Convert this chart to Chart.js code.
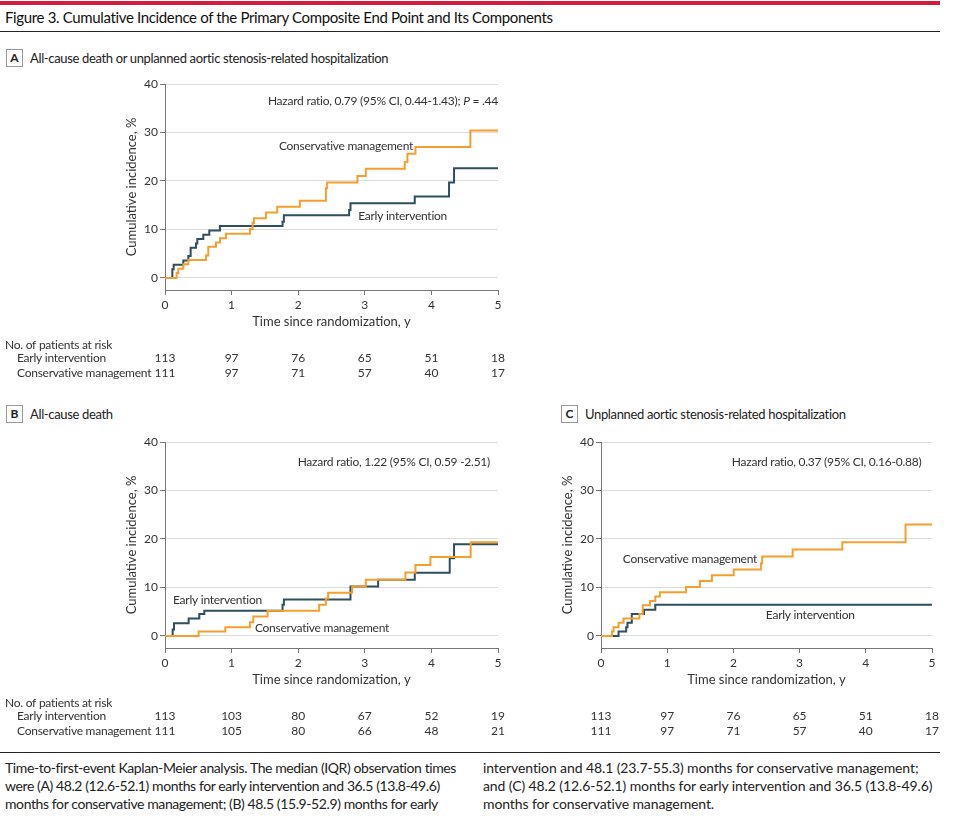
<!DOCTYPE html>
<html>
<head>
<meta charset="utf-8">
<script src="https://cdn.jsdelivr.net/npm/chart.js@4.4.0/dist/chart.umd.min.js"></script>
<style>
  body { margin: 0; width: 954px; height: 823px; background: #fff; position: relative; overflow: hidden;
         font-family: 'Lato', sans-serif; color: #222; }
  .abs { position: absolute; }
  #redbar { left: 0; top: 1px; width: 940px; height: 4px; background: #d21e3c; }
  #title { left: 5px; top: 7px; font-size: 15px; line-height: 20px; color: #111; white-space: nowrap; letter-spacing: -0.35px; }
  .rule { left: 0; width: 940px; height: 1px; background: #222; }
  .tag { width: 15px; height: 16px; border: 1px solid #999; font-size: 12px; font-weight: bold; text-align: center; line-height: 16px; color: #222; }
  .ptitle { font-size: 13px; line-height: 16px; color: #222; white-space: nowrap; letter-spacing: -0.35px; }
  .chartbox { position: absolute; }
  .caption { font-size: 14px; line-height: 18px; color: #222; white-space: nowrap; top: 759px; }
</style>
</head>
<body>
<div id="redbar" class="abs"></div>
<div id="title" class="abs">Figure 3. Cumulative Incidence of the Primary Composite End Point and Its Components</div>
<div class="abs rule" style="top:31px"></div>

<div class="abs tag" style="left:6px;top:49px">A</div>
<div class="abs ptitle" style="left:30px;top:50px">All-cause death or unplanned aortic stenosis-related hospitalization</div>
<div class="abs tag" style="left:6px;top:405px">B</div>
<div class="abs ptitle" style="left:30px;top:406px">All-cause death</div>
<div class="abs tag" style="left:561px;top:405px">C</div>
<div class="abs ptitle" style="left:585px;top:406px">Unplanned aortic stenosis-related hospitalization</div>

<div class="chartbox" style="left:0;top:74px;width:520px;height:310px"><canvas id="chartA"></canvas></div>
<div class="chartbox" style="left:0;top:432px;width:520px;height:310px"><canvas id="chartB"></canvas></div>
<div class="chartbox" style="left:490px;top:432px;width:460px;height:310px"><canvas id="chartC"></canvas></div>

<div class="abs rule" style="top:752px"></div>
<div class="abs caption" style="left:5px;letter-spacing:-0.4px">Time-to-first-event Kaplan-Meier analysis. The median (IQR) observation times<br>were (A) 48.2 (12.6-52.1) months for early intervention and 36.5 (13.8-49.6)<br>months for conservative management; (B) 48.5 (15.9-52.9) months for early</div>
<div class="abs caption" style="left:483px;letter-spacing:-0.1px">intervention and 48.1 (23.7-55.3) months for conservative management;<br>and (C) 48.2 (12.6-52.1) months for early intervention and 36.5 (13.8-49.6)<br>months for conservative management.</div>

<script>
const FAMILY = "'Lato', sans-serif";
const TEAL = '#2d4f5e';
const ORANGE = '#f5a02e';

const years = [0, 1, 2, 3, 4, 5];

// A: all-cause death or unplanned AS-related hospitalization
const aEarlyT = [0, 0.11, 0.13, 0.275, 0.35, 0.385, 0.465, 0.485, 0.575, 0.665, 0.825, 1.765, 1.785, 2.765, 2.785, 3.75, 4.265, 4.34, 5];
const aEarlyY = [0, 1.8, 2.7, 3.6, 4.5, 6.2, 7.1, 8.0, 8.9, 9.8, 10.7, 11.6, 12.9, 14.0, 15.4, 16.8, 19.7, 22.6, 22.6];
const aConsT = [0, 0.175, 0.2, 0.275, 0.35, 0.615, 0.65, 0.765, 0.825, 0.915, 1.275, 1.315, 1.335, 1.515, 1.685, 2.025, 2.415, 2.435, 2.89, 3.015, 3.6, 3.64, 3.76, 4.585, 5];
const aConsY = [0, 1.0, 1.9, 2.8, 3.7, 4.6, 6.4, 7.3, 8.2, 9.1, 10.1, 11.3, 12.3, 13.5, 14.7, 15.9, 18.5, 19.7, 21.0, 22.5, 23.9, 25.6, 27.0, 30.4, 30.4];
const aRiskEarly = [113, 97, 76, 65, 51, 18];
const aRiskCons = [111, 97, 71, 57, 40, 17];

// B: all-cause death
const bEarlyT = [0, 0.115, 0.135, 0.355, 0.515, 0.59, 1.765, 1.785, 2.785, 3.2, 3.75, 4.275, 4.34, 5];
const bEarlyY = [0, 1.3, 2.6, 3.6, 4.5, 5.2, 6.4, 7.5, 10.2, 11.6, 13.0, 16.0, 18.9, 18.9];
const bConsT = [0, 0.505, 0.905, 1.275, 1.325, 1.54, 2.315, 2.415, 2.45, 2.81, 3.015, 3.61, 3.76, 3.985, 4.59, 5];
const bConsY = [0, 0.9, 1.8, 2.8, 4.0, 5.2, 6.4, 7.7, 8.9, 10.2, 11.6, 13.1, 14.6, 16.3, 19.3, 19.3];
const bRiskEarly = [113, 103, 80, 67, 52, 19];
const bRiskCons = [111, 105, 80, 66, 48, 21];

// C: unplanned AS-related hospitalization
const cEarlyT = [0, 0.265, 0.38, 0.4, 0.465, 0.65, 0.82, 5];
const cEarlyY = [0, 0.9, 1.8, 2.7, 4.5, 5.4, 6.4, 6.4];
const cConsT = [0, 0.165, 0.19, 0.265, 0.34, 0.58, 0.63, 0.74, 0.82, 0.89, 1.285, 1.495, 1.675, 2.005, 2.415, 2.435, 2.895, 3.645, 4.6, 5];
const cConsY = [0, 0.9, 1.8, 2.7, 3.6, 4.5, 6.3, 7.2, 8.1, 9.0, 10.1, 11.3, 12.5, 13.7, 15.0, 16.4, 17.8, 19.3, 23.0, 23.0];
const cRiskEarly = [113, 97, 76, 65, 51, 18];
const cRiskCons = [111, 97, 71, 57, 40, 17];

const yTicks = [0, 10, 20, 30, 40];

// in-plot labels and at-risk table
const kmText = {
    id: 'kmText',
    afterDraw(chart, args, opts) {
        const { ctx, chartArea } = chart;
        const xs = chart.scales.x, ys = chart.scales.y;
        ctx.save();
        ctx.fillStyle = '#333';
        ctx.textBaseline = 'middle';
        ctx.textAlign = 'left';
        ctx.letterSpacing = '-0.25px';
        opts.notes.forEach(n => {
            const widths = n.parts.map(p => {
                ctx.font = (p.italic ? 'italic ' : '') + '12px ' + FAMILY;
                return ctx.measureText(p.text).width;
            });
            let x = xs.getPixelForValue(n.x);
            if (n.right) x -= widths.reduce((a, b) => a + b, 0);
            const y = ys.getPixelForValue(n.y);
            n.parts.forEach((p, i) => {
                ctx.font = (p.italic ? 'italic ' : '') + '12px ' + FAMILY;
                ctx.fillText(p.text, x, y);
                x += widths[i];
            });
        });

        ctx.font = '12px ' + FAMILY;
        const b = chartArea.bottom;
        if (opts.rowLabels) {
            ctx.fillText('No. of patients at risk', 5, b + 55);
            ctx.fillText('Early intervention', 17, b + 68);
            ctx.fillText('Conservative management', 17, b + 83);
        }
        ctx.letterSpacing = '0px';
        ctx.textAlign = 'center';
        years.forEach((t, i) => {
            const x = xs.getPixelForValue(t);
            ctx.fillText(String(opts.early[i]), x, b + 68);
            ctx.fillText(String(opts.cons[i]), x, b + 83);
        });
        ctx.restore();
    }
};

const toPts = (T, Y) => T.map((t, i) => ({ x: t, y: Y[i] }));

function makePanel(id, earlyT, earlyY, consT, consY, riskEarly, riskCons, notes, padLeft, padRight, rowLabels) {
    new Chart(document.getElementById(id), {
        type: 'line',
        data: {
            datasets: [
                { label: 'Conservative management', data: toPts(consT, consY), borderColor: ORANGE },
                { label: 'Early intervention', data: toPts(earlyT, earlyY), borderColor: TEAL }
            ]
        },
        options: {
            responsive: true,
            maintainAspectRatio: false,
            animation: false,
            layout: { padding: { left: padLeft, right: padRight, top: 10, bottom: 48 } },
            elements: {
                line: { stepped: true, borderWidth: 2, fill: false },
                point: { radius: 0, hoverRadius: 0 }
            },
            scales: {
                x: {
                    type: 'linear', min: 0, max: 5,
                    ticks: { stepSize: 1, padding: 3, color: '#333', font: { size: 12, family: FAMILY } },
                    grid: { drawOnChartArea: false, tickLength: 5, tickColor: '#777' },
                    border: { color: '#777' },
                    title: { display: true, text: 'Time since randomization, y', color: '#333',
                             font: { size: 13, family: FAMILY }, padding: { top: 0, bottom: 6 } },
                    afterFit: s => { s.height = 46; }
                },
                y: {
                    min: -2.5, max: 40,
                    afterBuildTicks: s => { s.ticks = yTicks.map(v => ({ value: v })); },
                    ticks: { padding: 2, color: '#333', font: { size: 12, family: FAMILY } },
                    grid: { color: '#dcdcdc', tickLength: 5, tickColor: '#777' },
                    border: { color: '#777' },
                    title: { display: true, text: 'Cumulative incidence, %', color: '#333',
                             font: { size: 13, family: FAMILY }, padding: { top: 14, bottom: 0 } },
                    afterFit: s => { s.width = 55; }
                }
            },
            plugins: {
                legend: { display: false },
                tooltip: { enabled: false },
                kmText: { notes, early: riskEarly, cons: riskCons, rowLabels }
            }
        },
        plugins: [kmText]
    });
}

makePanel('chartA', aEarlyT, aEarlyY, aConsT, aConsY, aRiskEarly, aRiskCons, [
    { x: 5, y: 36.5, right: true, parts: [{ text: 'Hazard ratio, 0.79 (95% CI, 0.44-1.43); ' }, { text: 'P', italic: true }, { text: ' = .44' }] },
    { x: 1.71, y: 27.2, parts: [{ text: 'Conservative management' }] },
    { x: 2.9, y: 12.7, parts: [{ text: 'Early intervention' }] }
], 110, 22, true);

makePanel('chartB', bEarlyT, bEarlyY, bConsT, bConsY, bRiskEarly, bRiskCons, [
    { x: 4.88, y: 35.8, right: true, parts: [{ text: 'Hazard ratio, 1.22 (95% CI, 0.59 -2.51)' }] },
    { x: 0.12, y: 7.4, parts: [{ text: 'Early intervention' }] },
    { x: 1.35, y: 1.6, parts: [{ text: 'Conservative management' }] }
], 110, 22, true);

makePanel('chartC', cEarlyT, cEarlyY, cConsT, cConsY, cRiskEarly, cRiskCons, [
    { x: 4.84, y: 35.9, right: true, parts: [{ text: 'Hazard ratio, 0.37 (95% CI, 0.16-0.88)' }] },
    { x: 0.33, y: 15.9, parts: [{ text: 'Conservative management' }] },
    { x: 2.49, y: 4.3, parts: [{ text: 'Early intervention' }] }
], 56, 18, false);
</script>
</body>
</html>
